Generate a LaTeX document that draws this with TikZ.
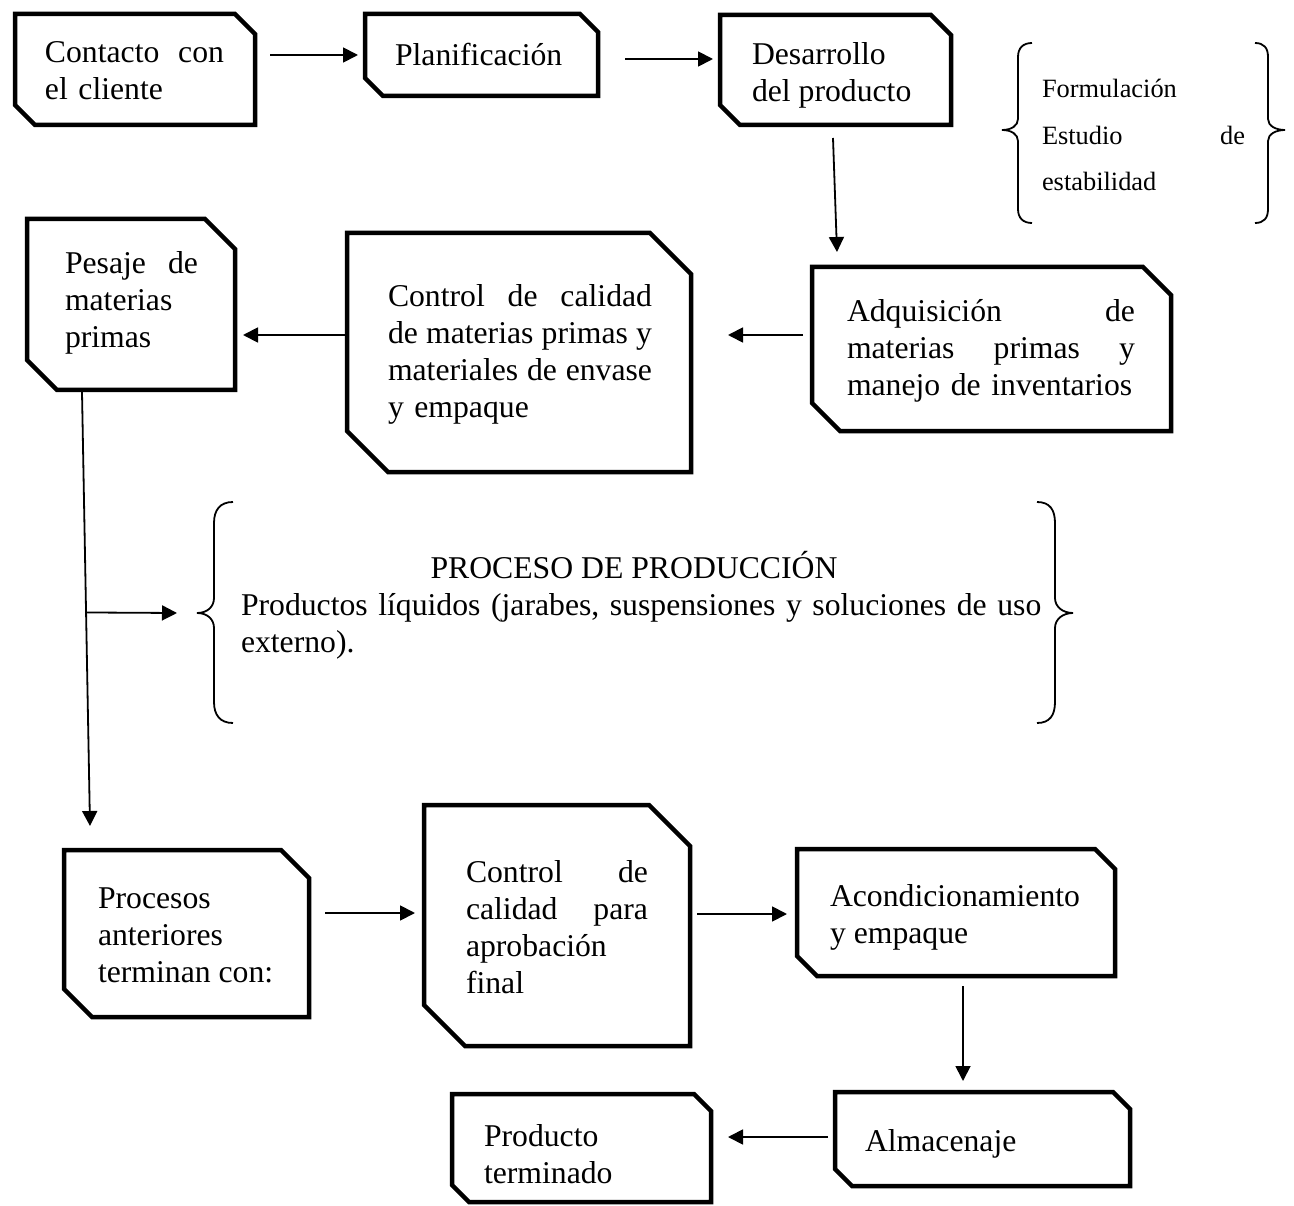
\documentclass[tikz,border=0pt]{standalone}
\usepackage{fontspec}
\setmainfont{Liberation Serif}
\usetikzlibrary{arrows.meta,calc}
\setlength{\parindent}{0pt}
\newcommand{\fs}{\rule{0pt}{26pt}}
\newcommand{\fss}{\rule{0pt}{22pt}}
\tikzset{
 boxline/.style={line width=4.5pt},
 arr/.style={line width=1.8pt, -{Triangle[length=15pt,width=15pt]}},
 bracel/.style={line width=1.8pt},
 txt/.style={inner sep=0pt, outer sep=0pt, anchor=north west, align=left, font=\fontsize{31.7}{37}\selectfont},
 smalltxt/.style={inner sep=0pt, outer sep=0pt, anchor=north west, align=left, font=\fontsize{26.4}{46.5}\selectfont}
}
\newcommand{\snipnode}[6]{%
 \node[inner sep=0pt, outer sep=0pt, minimum width={(#4)-(#2)}, minimum height={(#5)-(#3)}, anchor=north west] (#1) at (#2,#3) {};
 \draw[boxline] (#1.north west) -- ([xshift=-#6pt]#1.north east) -- ([yshift=-#6pt]#1.north east) -- (#1.south east) -- ([xshift=#6pt]#1.south west) -- ([yshift=#6pt]#1.south west) -- cycle;
}
\begin{document}
\begin{tikzpicture}[x=1pt,y=-1pt]
\path[fill=white,use as bounding box] (0,0) rectangle (1294,1206);

% boxes
\snipnode{contacto}{15}{14}{255}{125}{20}
\snipnode{plan}{365}{14}{598}{96}{18}
\snipnode{desarrollo}{720}{15}{951}{125}{20}
\snipnode{adquisicion}{812}{267}{1171}{431}{28}
\snipnode{control}{347}{233}{691}{472}{41}
\snipnode{pesaje}{27}{219}{235}{390}{30}
\snipnode{procesos}{64}{850}{309}{1017}{28}
\snipnode{controlfin}{424}{805}{690}{1046}{41}
\snipnode{acond}{797}{849}{1115}{976}{20}
\snipnode{almac}{835}{1092}{1130}{1186}{17}
\snipnode{producto}{452}{1094}{711}{1202}{17}

% texts
\node[txt, text width=179pt] (tcontacto) at (45,37) {\fs Contacto\hfill con\\el cliente};
\node[txt] (tplan) at (395,40) {\fs Planificación};
\node[txt] (tdesarrollo) at (752,39) {\fs Desarrollo\\del producto};
\node[smalltxt, text width=203pt] (tform) at (1042,76) {\fss Formulación\\Estudio\hfill de\\estabilidad};
\node[txt, text width=288pt] (tadq) at (847,296) {\fs Adquisición\hfill de\\materias\hfill primas\hfill y\\manejo de inventarios};
\node[txt, text width=264pt] (tcontrol) at (388,281) {\fs Control\hfill de\hfill calidad\\de\hfill materias\hfill primas\hfill y\\materiales\hfill de\hfill envase\\y empaque};
\node[txt, text width=133pt] (tpesaje) at (65,248) {\fs Pesaje\hfill de\\materias\\primas};
\node[txt, anchor=base] (tproceso) at (634,578) {PROCESO DE PRODUCCIÓN};
\node[txt, text width=787pt] (tliq) at (241,589) {\fs\makebox[787pt][s]{Productos líquidos (jarabes, suspensiones y soluciones de uso}\\externo).};
\node[txt] (tprocesos) at (98,882) {\fs Procesos\\anteriores\\terminan con:};
\node[txt, text width=182pt] (tcontrolfin) at (466,856) {\fs Control\hfill de\\calidad\hfill para\\aprobación\\final};
\node[txt] (tacond) at (830,880) {\fs Acondicionamiento\\y empaque};
\node[txt] (talmac) at (865,1125) {\fs Almacenaje};
\node[txt] (tproducto) at (484,1120) {\fs Producto\\terminado};

% braces
\coordinate (bsl) at (1002,130);
\coordinate (bsr) at (1285,130);
\draw[bracel] (1032,43) .. controls (1023,43) and (1018,48) .. (1018,57) -- (1018,119) .. controls (1018,126) and (1011,130) .. (bsl) .. controls (1011,130) and (1018,134) .. (1018,141) -- (1018,209) .. controls (1018,218) and (1023,223) .. (1032,223);
\draw[bracel] (1255,43) .. controls (1264,43) and (1268,48) .. (1268,57) -- (1268,119) .. controls (1268,126) and (1276,130) .. (bsr) .. controls (1276,130) and (1268,134) .. (1268,141) -- (1268,209) .. controls (1268,218) and (1264,223) .. (1255,223);
\coordinate (bbl) at (197,613);
\coordinate (bbr) at (1073,613);
\draw[bracel] (233,502) .. controls (220,502) and (214,510) .. (214,523) -- (214,598) .. controls (214,607) and (207,613) .. (bbl) .. controls (207,613) and (214,619) .. (214,628) -- (214,702) .. controls (214,715) and (220,723) .. (233,723);
\draw[bracel] (1037,502) .. controls (1050,502) and (1055,510) .. (1055,523) -- (1055,598) .. controls (1055,607) and (1063,613) .. (bbr) .. controls (1063,613) and (1055,619) .. (1055,628) -- (1055,702) .. controls (1055,715) and (1050,723) .. (1037,723);

% connectors
\draw[arr] ($(contacto.east |- plan.west)+(15,0)$) -- ($(plan.west)+(-7,0)$);
\draw[arr] ($(plan.east)+(27,4)$) -- ($(desarrollo.west |- plan.east)+(-7,4)$);
\draw[arr] ($(desarrollo.south)+(-2.5,13)$) -- ($(desarrollo.south |- adquisicion.north)+(1.5,-15)$);
\draw[arr] ($(adquisicion.west)+(-9,-14)$) -- ($(control.east |- adquisicion.west)+(37,-14)$);
\draw[arr] ($(control.west)+(-2,-17.5)$) -- ($(pesaje.east |- control.west)+(8,-17.5)$);
\coordinate (down1) at ($(pesaje.south)+(-49,2)$);
\coordinate (down2) at ($(procesos.north)+(-96.5,-24)$);
\draw[arr] (down1) -- (down2);
\coordinate (branch) at ($(down1)!0.508!(down2)$);
\draw[arr] (branch) -- ($(bbl)+(-20,0)$);
\draw[arr] ($(procesos.east)+(16,-20.5)$) -- ($(controlfin.west |- procesos.east)+(-9,-20.5)$);
\draw[arr] ($(controlfin.east)+(7,-11.5)$) -- ($(acond.west |- controlfin.east)+(-10,-11.5)$);
\draw[arr] ($(acond.south)+(7,10)$) -- ($(acond.south |- almac.north)+(7,-11)$);
\draw[arr] ($(almac.west)+(-7,-2)$) -- ($(producto.east |- almac.west)+(17,-2)$);
\end{tikzpicture}
\end{document}
